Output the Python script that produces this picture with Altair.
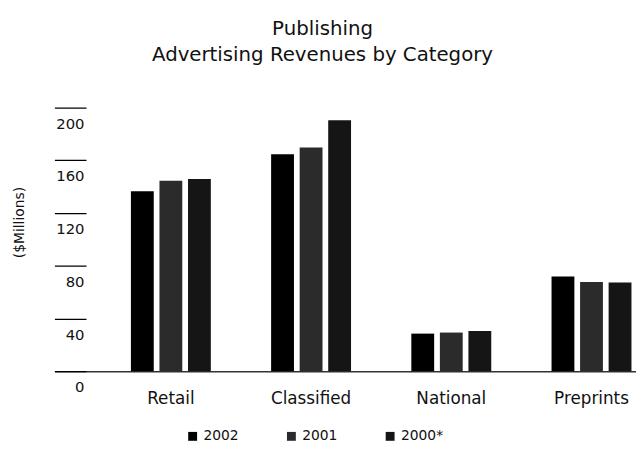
import altair as alt
import pandas as pd

categories = ["Retail", "Classified", "National", "Preprints"]
years = ["2002", "2001", "2000*"]
values_2002 = [136.5, 164.6, 28.5, 71.8]
values_2001 = [144.4, 169.6, 29.3, 67.7]
values_2000 = [145.8, 190.3, 30.5, 67.3]
y_ticks = [0, 40, 80, 120, 160, 200]
colors = ["#000000", "#2b2b2b", "#151515"]

rows = []
for yr, vals in zip(years, [values_2002, values_2001, values_2000]):
    for c, v in zip(categories, vals):
        rows.append({"Category": c, "Year": yr, "Value": v})
df = pd.DataFrame(rows)

FONT = "DejaVu Sans"

chart = alt.Chart(df).mark_bar().encode(
    x=alt.X("Category:N", sort=categories,
            scale=alt.Scale(paddingInner=0.43, paddingOuter=0.289, align=0.944),
            axis=alt.Axis(title=None, labelAngle=0, ticks=False, labelPadding=20,
                          labelFontSize=17, labelFont=FONT, labelColor="#111",
                          domainColor="#333", domainWidth=1.5)),
    xOffset=alt.XOffset("Year:N", sort=years,
                        scale=alt.Scale(paddingInner=0.2, paddingOuter=0)),
    y=alt.Y("Value:Q", scale=alt.Scale(domain=[0, 200], nice=False),
            axis=alt.Axis(values=y_ticks, title="($Millions)", offset=-32, tickSize=32,
                          labelPadding=-30, labelOffset=16, domain=False, grid=False,
                          tickColor="#000", tickWidth=1.3, labelFont=FONT, labelFontSize=15,
                          labelColor="#111", labelAlign="right", labelBaseline="middle",
                          titleFont=FONT, titleFontSize=14, titleFontWeight="normal",
                          titleColor="#111", titleX=-67, titleY=116, titleAngle=-90,
                          titleAlign="center", titleBaseline="middle")),
    color=alt.Color("Year:N", sort=years, scale=alt.Scale(domain=years, range=colors),
                    legend=alt.Legend(title=None, orient="none", legendX=133, legendY=326,
                                      direction="horizontal", symbolType="square",
                                      symbolSize=81, symbolStrokeWidth=0, labelFont=FONT,
                                      labelFontSize=14, labelColor="#111",
                                      columnPadding=46, labelOffset=4))
).properties(
    width=589, height=267,
    autosize=alt.AutoSizeParams(type="none"),
    padding={"left": 47, "right": 0, "top": 98, "bottom": 76},
    title=alt.TitleParams(text=["Publishing", "Advertising Revenues by Category"],
                          font=FONT, fontSize=20, fontWeight="normal", lineHeight=27,
                          anchor="middle", dx=-23, offset=42, color="#111")
).configure_view(stroke=None)

chart.save("out.html", embed_options={"renderer": "svg", "actions": False})
